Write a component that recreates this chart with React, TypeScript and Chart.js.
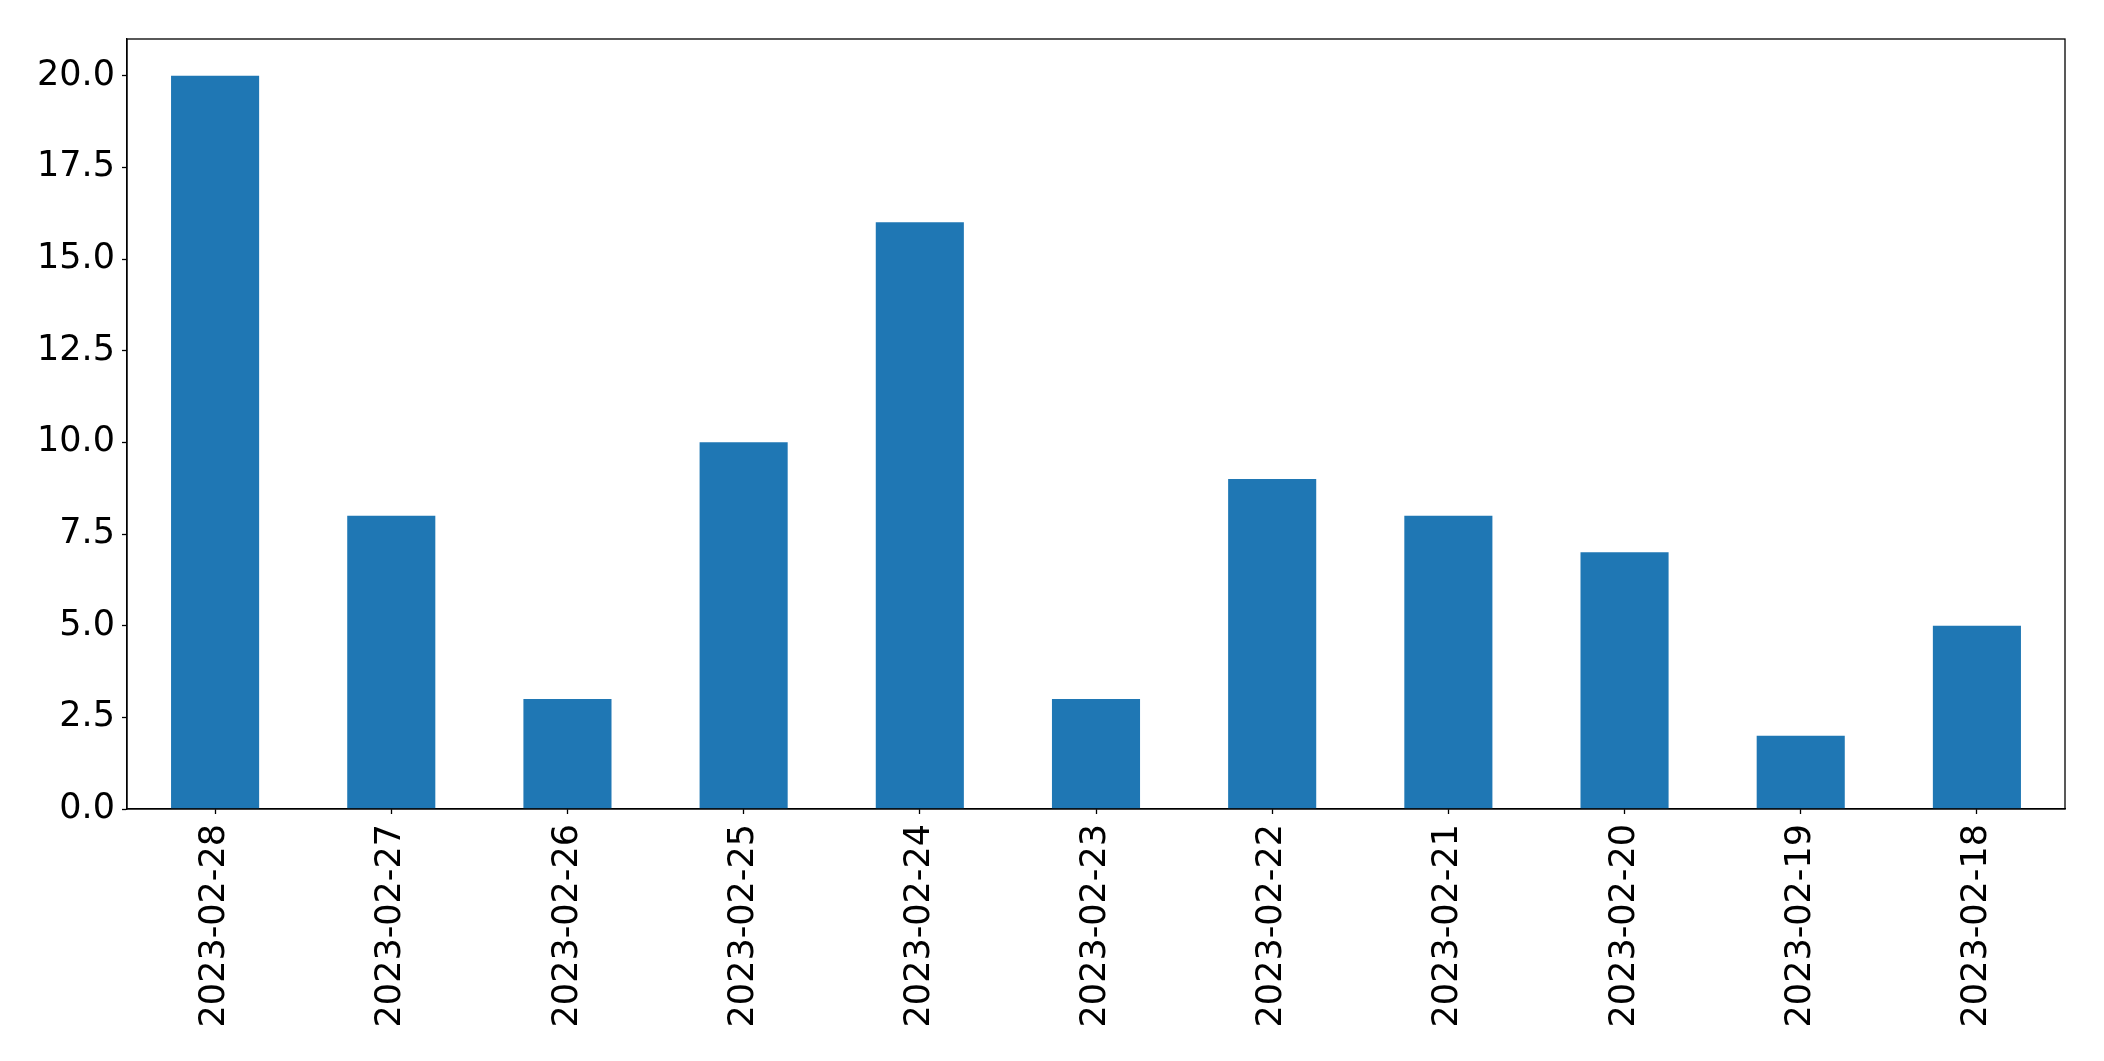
import React, { useEffect, useRef } from "react";
import { Chart, registerables } from "chart.js";

Chart.register(...registerables);

const categories = [
  "2023-02-28", "2023-02-27", "2023-02-26", "2023-02-25", "2023-02-24", "2023-02-23",
  "2023-02-22", "2023-02-21", "2023-02-20", "2023-02-19", "2023-02-18",
];
const counts = [20, 8, 3, 10, 16, 3, 9, 8, 7, 2, 5];
const yTickValues = [0, 2.5, 5, 7.5, 10, 12.5, 15, 17.5, 20];
const yMax = 21;

const FONT = "'DejaVu Sans', sans-serif";

const framePlugin = {
  id: "frame",
  afterDraw(chart: any) {
    const { ctx, chartArea } = chart;
    ctx.save();
    ctx.strokeStyle = "#000";
    ctx.lineWidth = 1.3;
    ctx.strokeRect(chartArea.left, chartArea.top, chartArea.right - chartArea.left, chartArea.bottom - chartArea.top);
    ctx.restore();
  },
};

export default function App() {
  const ref = useRef<HTMLCanvasElement>(null);
  useEffect(() => {
    if (!ref.current) return;
    const chart = new Chart(ref.current, {
      type: "bar",
      data: {
        labels: categories,
        datasets: [
          {
            data: counts,
            backgroundColor: "#1f77b4",
            barPercentage: 0.5,
            categoryPercentage: 1,
          },
        ],
      },
      plugins: [framePlugin],
      options: {
        animation: false,
        responsive: false,
        devicePixelRatio: 1,
        layout: { padding: { top: 39, right: 39, left: 0, bottom: 0 } },
        plugins: { legend: { display: false }, tooltip: { enabled: false } },
        scales: {
          x: {
            offset: true,
            grid: { drawOnChartArea: false, drawTicks: true, tickLength: 5, tickColor: "#000", tickWidth: 1.3, offset: false },
            border: { display: true, color: "#000", width: 1.3 },
            ticks: {
              color: "#000",
              font: { family: FONT, size: 35 },
              minRotation: 90,
              maxRotation: 90,
              autoSkip: false,
              padding: 10,
            },
            afterFit(scale: any) {
              scale.height = 1061 - 809;
            },
          },
          y: {
            min: 0,
            max: yMax,
            grid: { drawOnChartArea: false, drawTicks: true, tickLength: 5, tickColor: "#000", tickWidth: 1.3 },
            border: { display: true, color: "#000", width: 1.3 },
            ticks: {
              color: "#000",
              font: { family: FONT, size: 35 },
              padding: 7,
              callback: (v: any) => Number(v).toFixed(1),
            },
            afterBuildTicks(scale: any) {
              scale.ticks = yTickValues.map((v) => ({ value: v }));
            },
            afterFit(scale: any) {
              scale.width = 127;
            },
          },
        },
      },
    });
    return () => chart.destroy();
  }, []);
  return (
    <div style={{ position: "fixed", left: 0, top: 0, width: 2104, height: 1061, background: "#fff" }}>
      <canvas ref={ref} width={2104} height={1061} style={{ width: 2104, height: 1061, display: "block" }} />
    </div>
  );
}
